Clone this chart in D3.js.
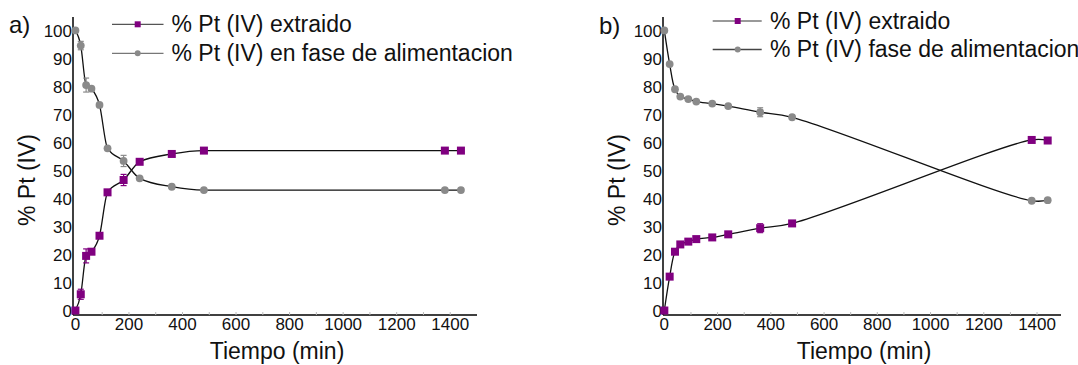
<!DOCTYPE html>
<html>
<head>
<meta charset="utf-8">
<script src="https://cdn.jsdelivr.net/npm/d3@7"></script>
<style>
  html, body { margin: 0; padding: 0; background: #fff; }
  svg { display: block; font-family: "Liberation Sans", Arial, sans-serif; }
</style>
</head>
<body>
<svg id="chart" width="1078" height="365"></svg>
<script>
// ---- data ----
const timeMin = [0, 20, 40, 60, 90, 120, 180, 240, 360, 480, 1380, 1440];

const extractedA = [0, 5.8, 19.5, 21.0, 26.7, 42.2, 46.6, 53.1, 55.9, 57.1, 57.1, 57.1];
const feedA      = [100, 94.6, 80.5, 79.2, 73.4, 57.9, 53.4, 47.2, 44.2, 43.0, 43.0, 43.0];
const errExtractedA = [0, 1.8, 2.5, 0, 0, 0, 2.0, 0, 0, 0, 0, 0];
const errFeedA      = [0, 1.5, 2.5, 0, 0, 0, 2.0, 0, 0, 0, 0, 0];

const extractedB = [0, 12.1, 21.0, 23.6, 24.6, 25.5, 26.1, 27.2, 29.4, 31.1, 60.9, 60.7];
const feedB      = [100, 88.0, 79.0, 76.4, 75.5, 74.6, 73.9, 73.0, 70.8, 69.0, 39.2, 39.4];
const errExtractedB = [0, 0, 0, 0, 0, 0, 0, 0, 1.6, 0, 0, 0];
const errFeedB      = [0, 0, 0, 0, 0, 0, 0, 0, 1.6, 0, 0, 0];

const xTickValues = [0, 200, 400, 600, 800, 1000, 1200, 1400];
const xMinorTicks = [100, 300, 500, 700, 900, 1100, 1300];
const yTickValues = [0, 10, 20, 30, 40, 50, 60, 70, 80, 90, 100];

const panelLabels = ["a)", "b)"];
const legendA = ["% Pt (IV) extraido", "% Pt (IV) en fase de alimentacion"];
const legendB = ["% Pt (IV) extraido", "% Pt (IV) fase de alimentacion"];
const xTitle = "Tiempo (min)";
const yTitle = "% Pt (IV)";

// ---- styling ----
const PURPLE = "#800080";
const GREY = "#8a8a8a";

const svg = d3.select("#chart");

const panels = [
  {
    label: panelLabels[0], labelX: 9, labelY: 33,
    x0: 73, x1: 477, xDomain: [-9, 1500],
    ext: extractedA, feed: feedA, errExt: errExtractedA, errFeed: errFeedA,
    curve: d3.curveMonotoneX,
    legend: legendA, legX: 112, legMarkX: 137.7, legX2: 163.5, legTextX: 171.5,
    legY: [24.3, 53.3], legLineColors: ["#555", "#777"]
  },
  {
    label: panelLabels[1], labelX: 599, labelY: 34,
    x0: 663, x1: 1061, xDomain: [-5, 1490],
    ext: extractedB, feed: feedB, errExt: errExtractedB, errFeed: errFeedB,
    curve: d3.curveCatmullRom.alpha(0.5),
    legend: legendB, legX: 712.7, legMarkX: 737.7, legX2: 761.7, legTextX: 770,
    legY: [21, 49.5], legLineColors: ["#777", "#444"]
  }
];

const yTop = 17, yBottom = 315;

panels.forEach(p => {
  const g = svg.append("g");
  const x = d3.scaleLinear().domain(p.xDomain).range([p.x0, p.x1]);
  const y = d3.scaleLinear().domain([-1.6, 104.8]).range([yBottom, yTop]);

  // axes lines
  g.append("line").attr("x1", p.x0).attr("x2", p.x0).attr("y1", yTop).attr("y2", yBottom)
    .attr("stroke", "#000").attr("stroke-width", 1.5);
  g.append("line").attr("x1", p.x0).attr("x2", p.x1).attr("y1", yBottom).attr("y2", yBottom)
    .attr("stroke", "#000").attr("stroke-width", 1.5);

  // minor x ticks
  g.selectAll(".mt").data(xMinorTicks.concat(xTickValues.slice(1))).enter().append("line")
    .attr("x1", d => x(d)).attr("x2", d => x(d))
    .attr("y1", yBottom).attr("y2", yBottom - 3)
    .attr("stroke", "#bbb").attr("stroke-width", 1);

  // x tick labels
  g.selectAll(".xt").data(xTickValues).enter().append("text")
    .attr("x", d => x(d)).attr("y", 330)
    .attr("text-anchor", "middle").attr("font-size", 17).attr("fill", "#111")
    .text(d => d);

  // y tick labels
  g.selectAll(".yt").data(yTickValues).enter().append("text")
    .attr("x", p.x0 - 1).attr("y", d => y(d)).attr("dy", "0.36em")
    .attr("text-anchor", "end").attr("font-size", 17).attr("fill", "#111")
    .text(d => d);

  // axis titles
  g.append("text").attr("x", (p.x0 + p.x1) / 2 + 2).attr("y", 359)
    .attr("text-anchor", "middle").attr("font-size", 23).attr("fill", "#111")
    .text(xTitle);
  g.append("text")
    .attr("transform", `translate(${p.x0 - 38},180) rotate(-90)`)
    .attr("text-anchor", "middle").attr("font-size", 23).attr("fill", "#111")
    .text(yTitle);

  // panel label
  g.append("text").attr("x", p.labelX).attr("y", p.labelY)
    .attr("font-size", 24).attr("fill", "#111").text(p.label);

  // curves
  const line = d3.line().x((d, i) => x(timeMin[i])).y(d => y(d)).curve(p.curve);
  [p.ext, p.feed].forEach(series => {
    g.append("path").datum(series).attr("d", line)
      .attr("fill", "none").attr("stroke", "#111").attr("stroke-width", 1.3);
  });

  // error bars
  const drawErr = (series, errs, color) => {
    const data = series.map((v, i) => ({ t: timeMin[i], v, e: errs[i] })).filter(d => d.e > 0);
    const eg = g.append("g").attr("stroke", color).attr("stroke-width", 1.2);
    data.forEach(d => {
      eg.append("line").attr("x1", x(d.t)).attr("x2", x(d.t)).attr("y1", y(d.v - d.e)).attr("y2", y(d.v + d.e));
      eg.append("line").attr("x1", x(d.t) - 3).attr("x2", x(d.t) + 3).attr("y1", y(d.v - d.e)).attr("y2", y(d.v - d.e));
      eg.append("line").attr("x1", x(d.t) - 3).attr("x2", x(d.t) + 3).attr("y1", y(d.v + d.e)).attr("y2", y(d.v + d.e));
    });
  };
  drawErr(p.feed, p.errFeed, GREY);
  drawErr(p.ext, p.errExt, PURPLE);

  // markers
  g.selectAll(".circ").data(p.feed).enter().append("circle")
    .attr("cx", (d, i) => x(timeMin[i])).attr("cy", d => y(d)).attr("r", 3.9)
    .attr("fill", GREY);
  g.selectAll(".sq").data(p.ext).enter().append("rect")
    .attr("x", (d, i) => x(timeMin[i]) - 4).attr("y", d => y(d) - 4)
    .attr("width", 8).attr("height", 8).attr("fill", PURPLE);

  // legend
  p.legend.forEach((txt, k) => {
    const ly = p.legY[k];
    g.append("line").attr("x1", p.legX).attr("x2", p.legX2).attr("y1", ly).attr("y2", ly)
      .attr("stroke", p.legLineColors[k]).attr("stroke-width", 1.3);
    if (k === 0) {
      g.append("rect").attr("x", p.legMarkX - 3).attr("y", ly - 3).attr("width", 6).attr("height", 6).attr("fill", PURPLE);
    } else {
      g.append("circle").attr("cx", p.legMarkX).attr("cy", ly).attr("r", 3).attr("fill", GREY);
    }
    g.append("text").attr("x", p.legTextX).attr("y", ly + 7.5)
      .attr("font-size", 23).attr("fill", "#111").text(txt);
  });
});
</script>
</body>
</html>
